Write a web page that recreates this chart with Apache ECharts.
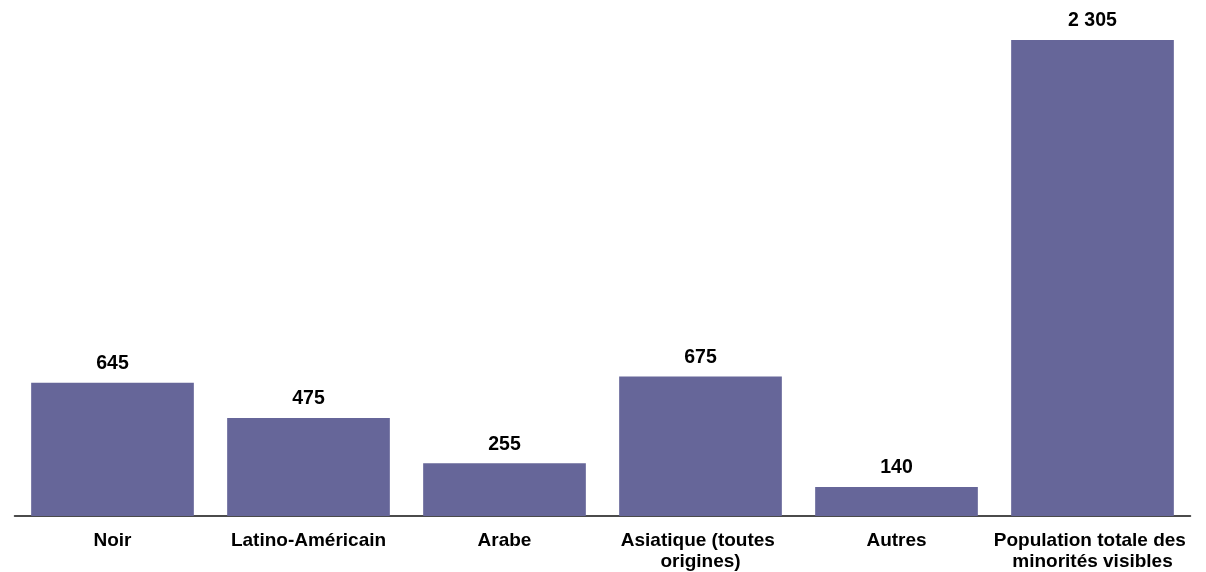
<!DOCTYPE html>
<html>
<head>
<meta charset="utf-8">
<script src="https://cdn.jsdelivr.net/npm/echarts@6/dist/echarts.min.js"></script>
<style>html,body{margin:0;padding:0;background:#fff}#c{width:1206px;height:572px}</style>
</head>
<body>
<div id="c"></div>
<script>
var categories = ['Noir', 'Latino-Américain', 'Arabe', 'Asiatique (toutes origines)', 'Autres', 'Population totale des minorités visibles'];
var values = [645, 475, 255, 675, 140, 2305];

var chart = echarts.init(document.getElementById('c'));
chart.setOption({
  animation: false,
  grid: { left: 14.5, right: 15.5, top: 40, bottom: 56, outerBoundsMode: 'none', containLabel: false },
  xAxis: {
    type: 'category',
    data: categories,
    axisLine: { lineStyle: { color: '#111', width: 1.5 } },
    axisTick: { show: false },
    axisLabel: {
      interval: 0,
      margin: 14,
      width: 200,
      overflow: 'break',
      color: '#000',
      fontFamily: 'Liberation Sans, Arial, sans-serif',
      fontWeight: 'bold',
      fontSize: 19,
      lineHeight: 21
    }
  },
  yAxis: {
    type: 'value',
    min: 0,
    max: 2305,
    show: false,
    splitLine: { show: false }
  },
  series: [{
    type: 'bar',
    data: values,
    barCategoryGap: '17%',
    itemStyle: { color: '#666699' },
    label: {
      show: true,
      position: 'top',
      distance: 9,
      color: '#000',
      fontFamily: 'Liberation Sans, Arial, sans-serif',
      fontWeight: 'bold',
      fontSize: 19.5,
      formatter: function (p) {
        return String(p.value).replace(/\B(?=(\d{3})+(?!\d))/g, ' ');
      }
    }
  }]
});
</script>
</body>
</html>
